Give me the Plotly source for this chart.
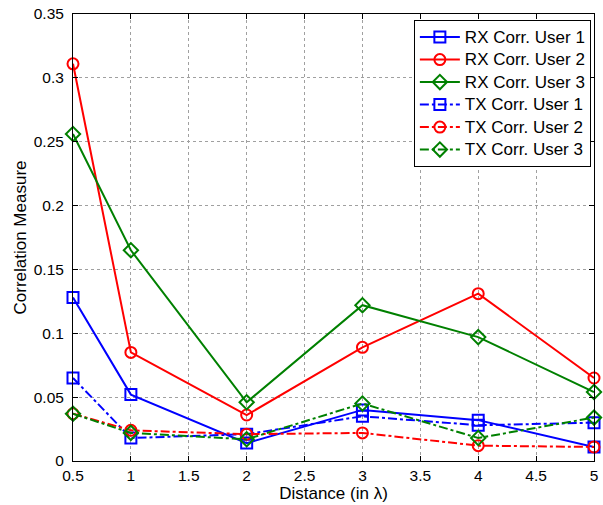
import plotly.graph_objects as go

distance = [0.5, 1, 2, 3, 4, 5]
rx_user1 = [0.128, 0.052, 0.014, 0.040, 0.032, 0.011]
rx_user2 = [0.311, 0.085, 0.036, 0.089, 0.131, 0.065]
rx_user3 = [0.256, 0.165, 0.046, 0.122, 0.097, 0.054]
tx_user1 = [0.065, 0.018, 0.021, 0.035, 0.028, 0.030]
tx_user2 = [0.037, 0.024, 0.021, 0.022, 0.012, 0.011]
tx_user3 = [0.037, 0.022, 0.017, 0.045, 0.018, 0.034]

names = ["RX Corr. User 1", "RX Corr. User 2", "RX Corr. User 3",
         "TX Corr. User 1", "TX Corr. User 2", "TX Corr. User 3"]
series = [rx_user1, rx_user2, rx_user3, tx_user1, tx_user2, tx_user3]
colors = ["#0000ff", "#ff0000", "#008000"] * 2
symbols = ["square-open", "circle-open", "diamond-open"] * 2
dashes = ["solid"] * 3 + ["dashdot"] * 3

xticks = [0.5, 1, 1.5, 2, 2.5, 3, 3.5, 4, 4.5, 5]
xticklabels = ["0.5", "1", "1.5", "2", "2.5", "3", "3.5", "4", "4.5", "5"]
yticks = [0, 0.05, 0.1, 0.15, 0.2, 0.25, 0.3, 0.35]
yticklabels = ["0", "0.05", "0.1", "0.15", "0.2", "0.25", "0.3", "0.35"]

fig = go.Figure()
for n, s, c, sym, d in zip(names, series, colors, symbols, dashes):
    fig.add_trace(go.Scatter(
        x=distance, y=s, name='<span style="font-size:17px">' + n + '</span>',
        mode="lines+markers",
        line=dict(color=c, width=2, dash=d),
        marker=dict(symbol=sym, size=11, color=c, line=dict(width=2, color=c)),
        cliponaxis=False,
    ))

font = "Liberation Sans, Arial, sans-serif"
axis_common = dict(
    showline=True, linecolor="black", linewidth=1, mirror="ticks",
    ticks="inside", ticklen=5, tickcolor="black",
    showgrid=True, gridcolor="#a0a0a0", griddash="dot", gridwidth=1,
    zeroline=False, tickfont=dict(family=font, size=15.5, color="black"),
)
fig.update_layout(
    width=603, height=505,
    margin=dict(l=73, r=5, t=13, b=44),
    paper_bgcolor="white", plot_bgcolor="white",
    font=dict(family=font, color="black"),
    xaxis=dict(range=[0.5, 5], tickvals=xticks, ticktext=xticklabels,
               title=dict(text="Distance (in λ)", font=dict(size=17), standoff=2),
               **axis_common),
    yaxis=dict(range=[0, 0.35], tickvals=yticks, ticktext=yticklabels,
               ticklabelstandoff=5,
               title=dict(text="Correlation Measure", font=dict(size=17), standoff=2),
               **axis_common),
    legend=dict(x=0.994, y=0.987, xanchor="right", yanchor="top",
                bgcolor="white", bordercolor="black", borderwidth=1,
                font=dict(family=font, size=15, color="black"),
                itemwidth=40, tracegroupgap=0),
    showlegend=True,
)
fig.write_html("out.html")
